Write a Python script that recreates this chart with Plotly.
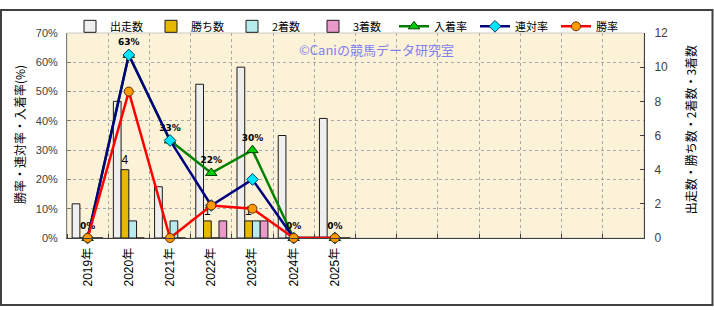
import plotly.graph_objects as go

# ---- data ----
years = ["2019年", "2020年", "2021年", "2022年", "2023年", "2024年", "2025年"]
n_slots = 14  # chart has 14 category slots, only first 7 used
starts = [2, 8, 3, 9, 10, 6, 7]          # 出走数
wins = [0, 4, 0, 1, 1, 0, 0]             # 勝ち数
seconds = [0, 1, 1, 0, 1, 0, 0]          # 2着数
thirds = [0, 0, 0, 1, 1, 0, 0]           # 3着数
place_rate = [0, 62.5, 33.3, 22.2, 30, 0, 0]   # 入着率
rentai_rate = [0, 62.5, 33.3, 11.1, 20, 0, 0]  # 連対率
win_rate = [0, 50, 0, 11.1, 10, 0, 0]          # 勝率

xs = list(range(len(years)))

# layout geometry (pixels)
W, H = 714, 310
L, R, T, B = 67, 70, 25, 72
pw, ph = W - L - R, H - T - B

def px_x(p):
    return (p - L) / pw

def px_y(p):
    return (H - B - p) / ph

JP = "Noto Sans CJK JP"
NUM = "Liberation Sans, Noto Sans CJK JP"

fig = go.Figure()

bar_specs = [
    ("出走数", starts, "#efefef", None),
    ("勝ち数", wins, "#e8b800", [str(v) if v else "" for v in wins]),
    ("2着数", seconds, "#b8ecec", None),
    ("3着数", thirds, "#e99ac9", None),
]
for name, vals, col, txt in bar_specs:
    fig.add_trace(go.Bar(
        x=xs, y=vals, name=name, yaxis="y",
        marker=dict(color=col, line=dict(color="#1a1a1a", width=1)),
        text=txt, textposition="outside" if txt else None,
        textfont=dict(family=NUM, size=12, color="#000000"),
        cliponaxis=False, constraintext="none",
    ))

fig.add_trace(go.Scatter(
    x=xs, y=place_rate, name="入着率", yaxis="y2", mode="lines+markers+text",
    line=dict(color="#008000", width=2.5),
    marker=dict(symbol="triangle-up", size=10, color="#00cc00", line=dict(color="#004000", width=1)),
    text=[f"{int(v + 0.5):d}%" for v in place_rate], textposition="top center",
    textfont=dict(family="DejaVu Sans, " + JP, size=9, color="#000000", weight="bold"),
    cliponaxis=False,
))
fig.add_trace(go.Scatter(
    x=xs, y=rentai_rate, name="連対率", yaxis="y2", mode="lines+markers",
    line=dict(color="#000080", width=2.5),
    marker=dict(symbol="diamond", size=9, color="#00e5ff", line=dict(color="#004060", width=1)),
    cliponaxis=False,
))
fig.add_trace(go.Scatter(
    x=xs, y=win_rate, name="勝率", yaxis="y2", mode="lines+markers",
    line=dict(color="#ff0000", width=2.5),
    marker=dict(symbol="circle", size=9, color="#ff9900", line=dict(color="#603000", width=1)),
    cliponaxis=False,
))

fig.update_layout(
    width=W, height=H,
    margin=dict(l=L, r=R, t=T, b=B),
    paper_bgcolor="#ffffff",
    plot_bgcolor="#fcf2d8",
    barmode="group", bargap=0.25, bargroupgap=0,
    font=dict(family=JP, size=11, color="#000000"),
    showlegend=True,
    legend=dict(
        orientation="h", x=px_x(70), y=px_y(3), xanchor="left", yanchor="top",
        font=dict(family=JP, size=11, color="#000000"),
        bgcolor="rgba(0,0,0,0)", itemwidth=30, tracegroupgap=0,
        traceorder="normal", entrywidth=36, entrywidthmode="pixels",
    ),
    xaxis=dict(
        range=[-0.5, n_slots - 0.5],
        tickmode="array", tickvals=xs, ticktext=years, tickangle=-90,
        tickfont=dict(family=NUM, size=12, color="#000000"),
        showgrid=False, zeroline=False,
        showline=True, linecolor="#404040", linewidth=1,
        ticks="", ticklabelstandoff=4,
        minor=dict(tickmode="linear", tick0=0.5, dtick=1, showgrid=True,
                   gridcolor="#a8a8a8", griddash="dot", gridwidth=1,
                   ticks="inside", ticklen=4, tickcolor="#404040"),
    ),
    yaxis=dict(
        side="right", range=[0, 12], dtick=2,
        showgrid=False, zeroline=False,
        showline=True, linecolor="#404040", linewidth=1,
        ticks="inside", ticklen=4, tickcolor="#404040",
        tickfont=dict(family=NUM, size=12, color="#404040"),
        ticklabelstandoff=7,
    ),
    yaxis2=dict(
        overlaying="y", side="left", range=[0, 70], dtick=10, ticksuffix="%",
        showgrid=True, gridcolor="#a8a8a8", griddash="dot", gridwidth=1,
        zeroline=False,
        showline=True, linecolor="#808070", linewidth=1,
        ticks="inside", ticklen=4, tickcolor="#808070",
        tickfont=dict(family=NUM, size=11, color="#404040"),
        ticklabelstandoff=6,
    ),
)

# plot-area border and outer frame
fig.add_shape(type="rect", xref="paper", yref="paper", x0=0, x1=1, y0=0, y1=1,
              line=dict(color="#c8c8c8", width=1), layer="below")
fig.add_shape(type="rect", xref="paper", yref="paper",
              x0=px_x(1), x1=px_x(712.5), y0=px_y(307.5), y1=px_y(1),
              line=dict(color="#404040", width=2))

# axis titles
fig.add_annotation(text="勝率・連対率・入着率(%)", xref="paper", yref="paper",
                   x=px_x(19), y=px_y(131), textangle=-90, showarrow=False,
                   xanchor="center", yanchor="middle",
                   font=dict(family=JP, size=12, color="#000000"))
fig.add_annotation(text="出走数・勝ち数・2着数・3着数", xref="paper", yref="paper",
                   x=px_x(690), y=px_y(126), textangle=-90, showarrow=False,
                   xanchor="center", yanchor="middle",
                   font=dict(family=JP, size=12, color="#000000"))
# watermark
fig.add_annotation(text="©Caniの競馬データ研究室", xref="paper", yref="paper",
                   x=px_x(376), y=px_y(42), showarrow=False,
                   xanchor="center", yanchor="middle",
                   font=dict(family=JP, size=13, color="#8080f0"))

fig.write_html("out.html")
